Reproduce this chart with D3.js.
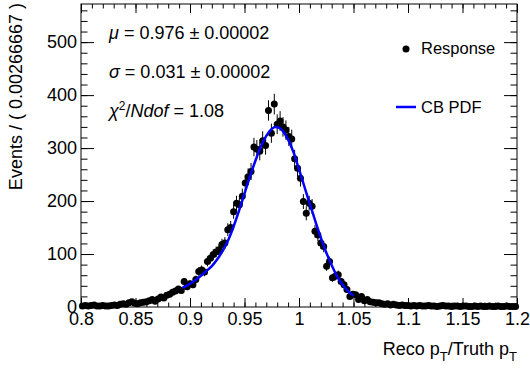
<!DOCTYPE html>
<html><head><meta charset="utf-8">
<script src="https://cdn.jsdelivr.net/npm/d3@7"></script>
<style>
body{margin:0;background:#fff;}
svg{display:block;font-family:"Liberation Sans",Arial,Helvetica,sans-serif;}
</style></head>
<body><svg id="c" width="530" height="369"></svg>
<script>
// ---- data ----
const binLow = 0.8, binHigh = 1.2, nBins = 150;
const counts = [
 2,3,2,3,4,2,2,3,2,2,
 3,4,3,5,6,5,8,10,7,6,
 8,9,10,12,14,11,15,19,17,22,
 24,28,30,34,31,48,38,44,42,52,
 67,70,66,86,92,99,104,108,118,121,
 146,150,180,196,193,209,234,246,256,302,
 298,294,314,305,371,328,383,345,351,340,
 334,322,317,280,262,243,199,177,196,190,
 143,136,121,114,77,86,55,58,61,48,
 42,33,20,24,23,14,20,12,14,10,
 9,8,8,6,5,6,4,5,4,3,
 4,3,3,2,3,2,3,2,2,3,
 2,2,1,2,3,2,2,1,2,2,
 1,2,2,1,1,2,1,2,1,1,
 2,1,1,2,1,1,2,1,1,1];
const fitX = [0.893,0.900,0.905,0.910,0.915,0.920,0.925,0.930,0.935,0.940,0.945,0.950,0.955,0.960,0.965,0.970,0.975,0.978,0.982,0.986,0.990,0.995,1.000,1.005,1.010,1.015,1.020,1.025,1.030,1.035,1.040,1.045,1.050];
const fitY = [36,44,51,59,68,77,90,106,126,152,182,214,246,276,303,323,336,340,338,330,316,292,260,227,194,162,131,103,79,58,42,30,21];
const xMajor = [0.8,0.85,0.9,0.95,1.0,1.05,1.1,1.15,1.2];
const xMajorLabels = ["0.8","0.85","0.9","0.95","1","1.05","1.1","1.15","1.2"];
const yMajor = [0,100,200,300,400,500];
const yMajorLabels = ["0","100","200","300","400","500"];
const yMax = 572;

// ---- layout ----
const L=81,R=517,T=4,B=307;
const svg = d3.select("#c");
const x = d3.scaleLinear().domain([binLow,binHigh]).range([L,R]);
const y = d3.scaleLinear().domain([0,yMax]).range([B,T]);
const bw = (binHigh-binLow)/nBins;
const pts = counts.map((c,i)=>({x: binLow+(i+0.5)*bw, v:c}));

const xMinor = d3.range(0,41).map(i=>+(0.8+i*0.01).toFixed(3));
const yMinor = d3.range(0,Math.floor(yMax/20)+1).map(i=>i*20);

function styleAxis(g){g.select(".domain").remove();g.selectAll("line").attr("stroke","#000");g.selectAll("text").attr("fill","#000").attr("font-size",18);}

// bottom
svg.append("g").attr("transform",`translate(0,${B})`)
 .call(d3.axisBottom(x).tickValues(xMinor).tickSize(-4.5).tickFormat(""))
 .call(styleAxis);
svg.append("g").attr("transform",`translate(0,${B})`)
 .call(d3.axisBottom(x).tickValues(xMajor).tickSize(-9).tickPadding(5).tickFormat((d,i)=>xMajorLabels[i]))
 .call(styleAxis);
// top
svg.append("g").attr("transform",`translate(0,${T})`)
 .call(d3.axisTop(x).tickValues(xMinor).tickSize(-4.5).tickFormat(""))
 .call(styleAxis);
svg.append("g").attr("transform",`translate(0,${T})`)
 .call(d3.axisTop(x).tickValues(xMajor).tickSize(-9).tickFormat(""))
 .call(styleAxis);
// left
svg.append("g").attr("transform",`translate(${L},0)`)
 .call(d3.axisLeft(y).tickValues(yMinor).tickSize(-6.5).tickFormat(""))
 .call(styleAxis);
svg.append("g").attr("transform",`translate(${L},0)`)
 .call(d3.axisLeft(y).tickValues(yMajor).tickSize(-13).tickPadding(4).tickFormat((d,i)=>yMajorLabels[i]))
 .call(styleAxis);
// right
svg.append("g").attr("transform",`translate(${R},0)`)
 .call(d3.axisRight(y).tickValues(yMinor).tickSize(-6.5).tickFormat(""))
 .call(styleAxis);
svg.append("g").attr("transform",`translate(${R},0)`)
 .call(d3.axisRight(y).tickValues(yMajor).tickSize(-13).tickFormat(""))
 .call(styleAxis);

// frame
svg.append("rect").attr("x",L).attr("y",T).attr("width",R-L).attr("height",B-T)
 .attr("fill","none").attr("stroke","#000").attr("stroke-width",1);

// error bars
svg.append("g").selectAll("line").data(pts).join("line")
 .attr("x1",d=>x(d.x)).attr("x2",d=>x(d.x))
 .attr("y1",d=>y(d.v+Math.sqrt(d.v))).attr("y2",d=>y(Math.max(0,d.v-Math.sqrt(d.v))))
 .attr("stroke","#000").attr("stroke-width",1);
// markers
svg.append("g").selectAll("circle").data(pts).join("circle")
 .attr("cx",d=>x(d.x)).attr("cy",d=>y(d.v)).attr("r",3.5).attr("fill","#000");

// fit curve
const fit = fitX.map((v,i)=>[v,fitY[i]]);
svg.append("path").datum(fit)
 .attr("d",d3.line().x(d=>x(d[0])).y(d=>y(d[1])).curve(d3.curveMonotoneX))
 .attr("fill","none").attr("stroke","#0000ff").attr("stroke-width",2.5);

// axis titles
svg.append("text").attr("x",R).attr("y",355).attr("text-anchor","end").attr("font-size",18)
 .html('Reco p<tspan dy="6" font-size="13">T</tspan><tspan dy="-6">/Truth p</tspan><tspan dy="6" font-size="13">T</tspan>');
svg.append("text").attr("transform","translate(22,3) rotate(-90)").attr("text-anchor","end").attr("font-size",18)
 .attr("fill","#000").text("Events / ( 0.00266667 )");

// annotations
const ann = svg.append("g").attr("font-size",18).attr("fill","#000");
ann.append("text").attr("x",109).attr("y",39)
 .html('<tspan font-style="italic">μ</tspan> = 0.976 ± 0.00002');
ann.append("text").attr("x",109).attr("y",78)
 .html('<tspan font-style="italic">σ</tspan> = 0.031 ± 0.00002');
ann.append("text").attr("x",109).attr("y",117)
 .html('<tspan font-style="italic">χ</tspan><tspan dy="-7" font-size="12">2</tspan><tspan dy="7">/</tspan><tspan font-style="italic">Ndof</tspan> = 1.08');

// legend
svg.append("circle").attr("cx",406).attr("cy",49).attr("r",3.5).attr("fill","#000");
svg.append("text").attr("x",421).attr("y",54).attr("font-size",16.5).text("Response");
svg.append("line").attr("x1",396).attr("x2",416).attr("y1",107).attr("y2",107).attr("stroke","#0000ff").attr("stroke-width",2.5);
svg.append("text").attr("x",421).attr("y",113).attr("font-size",16.5).text("CB PDF");
</script></body></html>
